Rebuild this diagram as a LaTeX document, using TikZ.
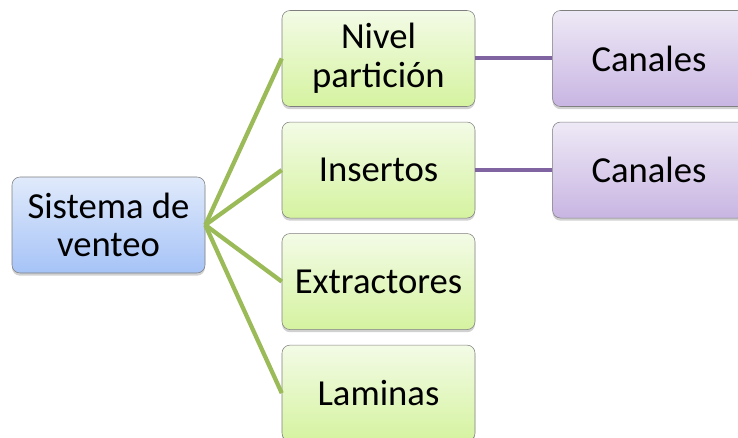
\documentclass[tikz,border=0pt]{standalone}
\usepackage{fontspec}
\setmainfont{Carlito}
\usetikzlibrary{positioning,shadows}
\definecolor{Frame}{HTML}{7F7F7F}
\definecolor{LeafLine}{HTML}{9BBB59}
\definecolor{SubLine}{HTML}{8064A2}
\definecolor{RootTop}{HTML}{E0EAFB}
\definecolor{RootBot}{HTML}{A6C3F7}
\definecolor{LeafTop}{HTML}{F3FBE6}
\definecolor{LeafBot}{HTML}{D5F3A0}
\definecolor{SubTop}{HTML}{EEE9F6}
\definecolor{SubBot}{HTML}{C8B5E2}

\begin{document}
\begin{tikzpicture}[
  x=0.75pt,y=-0.75pt,
  node distance=11.25pt and 57.75pt,
  card/.style={rounded corners=6pt,draw=Frame,thin,minimum width=144.75pt,minimum height=72pt,inner sep=0pt,align=center,font=\fontsize{27.5}{29}\selectfont,drop shadow={shadow xshift=0pt,shadow yshift=-2pt,opacity=0.3,fill=black!60}},
  root/.style={card,top color=RootTop,bottom color=RootBot},
  leaf/.style={card,top color=LeafTop,bottom color=LeafBot},
  sub/.style={card,top color=SubTop,bottom color=SubBot},
  leafline/.style={line width=3.2pt,draw=LeafLine},
  subline/.style={line width=3pt,draw=SubLine}
]
\useasboundingbox (0,0) rectangle (738,438);
\node[root] (venteo) at (108.5,225) {Sistema de\\venteo};
\node[leaf] (nivel) at (378.5,58.5) {Nivel\\partición};
\node[leaf,below=of nivel] (insertos) {Insertos};
\node[leaf,below=of insertos] (extract) {Extractores};
\node[leaf,below=of extract] (laminas) {Laminas};
\node[sub,right=of nivel] (canalA) {Canales};
\node[sub,right=of insertos] (canalB) {Canales};
\foreach \k in {nivel,insertos,extract,laminas}
  \draw[leafline] (venteo.east) -- (\k.west);
\draw[subline] (nivel) -- (canalA);
\draw[subline] (insertos) -- (canalB);
\end{tikzpicture}
\end{document}
